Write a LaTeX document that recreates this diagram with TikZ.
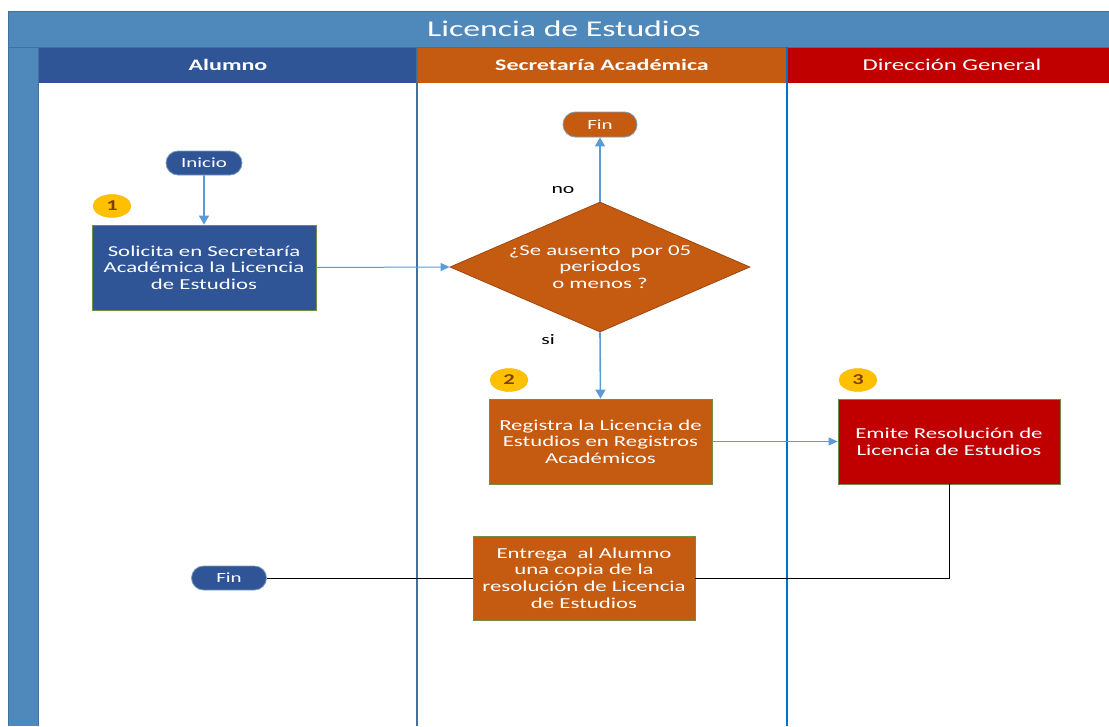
\documentclass[tikz,border=0pt]{standalone}
\usepackage{fontspec}
\setmainfont[FakeStretch=1.5]{Carlito}
\usetikzlibrary{shapes.geometric,shapes.misc,arrows.meta}
\definecolor{titleblue}{HTML}{4F88BB}
\definecolor{frameblue}{HTML}{41719C}
\definecolor{laneblue}{HTML}{0070C0}
\definecolor{darkblue}{HTML}{2F5597}
\definecolor{pumpkin}{HTML}{C55A11}
\definecolor{deepred}{HTML}{C00000}
\definecolor{badgeyellow}{HTML}{FFC000}
\definecolor{badgetext}{HTML}{7F3F00}
\definecolor{flowblue}{HTML}{5B9BD5}
\definecolor{boxedge}{HTML}{6E8F47}
\begin{document}
\begin{tikzpicture}[x=1pt,y=-1pt,
  txt/.style={font=\fontsize{15.2}{16.6}\selectfont, text=white, align=center},
  process/.style={txt, draw=boxedge, line width=0.8pt, inner sep=0pt},
  terminal/.style={rounded rectangle, draw=frameblue!70, line width=0.8pt, text=white,
    font=\fontsize{14}{15}\selectfont, minimum height=24pt, inner sep=0pt},
  badge/.style={ellipse, fill=badgeyellow, draw=badgeyellow!80!orange, text=badgetext,
    font=\bfseries\fontsize{15}{15}\selectfont, minimum width=38pt, minimum height=23pt, inner sep=0pt},
  flow/.style={draw=flowblue, line width=1.6pt, -{Triangle[length=9pt,width=10pt]}},
  thinflow/.style={draw=flowblue, line width=1pt, -{Triangle[length=9pt,width=8pt]}},
  plain/.style={draw=black, line width=1pt},
  lbl/.style={font=\fontsize{14.5}{16}\selectfont, text=black},
  lanehead/.style={font=\fontsize{16.5}{17}\selectfont, text=white},
  laneheadbold/.style={font=\bfseries\fontsize{16}{17}\selectfont, text=white}
]
\useasboundingbox (0,0) rectangle (1109,726);

% pool frame, title band and side strip
\fill[titleblue] (8,11) rectangle (1109,47);
\fill[titleblue] (8,47) rectangle (38,726);
\draw[frameblue, line width=0.8pt] (1109,11) -- (8,11) -- (8,726);
\node[font=\fontsize{22.5}{23}\selectfont, text=white] (title) at (564,29) {Licencia de Estudios};

% lane headers
\fill[darkblue] (38,47) rectangle (417,83);
\fill[pumpkin] (417,47) rectangle (787,83);
\fill[deepred] (787,47) rectangle (1109,83);
\draw[frameblue, line width=0.8pt] (8,47) -- (1109,47);
\node[laneheadbold] (hA) at (228,65) {Alumno};
\node[laneheadbold] (hS) at (602,65) {Secretaría Académica};
\node[lanehead] (hD) at (952,65) {Dirección General};

% lane separators
\draw[frameblue, line width=1pt] (38,47) -- (38,726);
\draw[frameblue, line width=1.6pt] (417,47) -- (417,726);
\draw[laneblue, line width=1.6pt] (787,47) -- (787,726);

% Alumno lane
\node[terminal, fill=darkblue, minimum width=76pt] (inicio) at (204,163) {Inicio};
\node[badge] (b1) at (112,206) {1};
\node[process, fill=darkblue, minimum width=224pt, minimum height=85pt] (solicita) at (204,267.5)
  {Solicita en Secretaría\\Académica la Licencia\\de Estudios};
\node[terminal, fill=darkblue, minimum width=75pt] (finA) at (229,578) {Fin};

% Secretaría Académica lane
\node[terminal, fill=pumpkin, minimum width=74pt, minimum height=25pt] (finS) at (600,124.5) {Fin};
\node[diamond, fill=pumpkin, draw=pumpkin!80!black, line width=0.8pt, aspect=2.31,
  minimum width=300pt, minimum height=130pt, inner sep=0pt, txt] (decide) at (600,267)
  {¿Se ausento\ \ por 05\\periodos\\o menos ?};
\node[badge] (b2) at (509,380) {2};
\node[process, fill=pumpkin, minimum width=223pt, minimum height=85pt] (registra) at (600.5,441.5)
  {Registra la Licencia de\\Estudios en Registros\\Académicos};
\node[process, fill=pumpkin, minimum width=222pt, minimum height=84pt] (entrega) at (584,578)
  {Entrega\ \ al Alumno\\una copia de la\\resolución de Licencia\\de Estudios};

% Dirección General lane
\node[badge] (b3) at (858,380) {3};
\node[process, fill=deepred, minimum width=222pt, minimum height=85pt] (emite) at (949,441.5)
  {Emite Resolución de\\Licencia de Estudios};

% connectors
\draw[flow] (inicio) -- (solicita);
\draw[thinflow] (solicita.east) -- (decide.west);
\draw[flow] (decide.north) -- (finS.south);
\draw[flow] (decide.south) -- (registra.north);
\draw[thinflow] (registra.east) -- (emite.west);
\draw[plain] (emite.south) |- (entrega.east);
\draw[plain] (entrega.west) -- (finA.east);

% branch labels
\node[lbl] (no) at (563,190) {no};
\node[lbl] (si) at (548,340) {si};
\end{tikzpicture}
\end{document}
